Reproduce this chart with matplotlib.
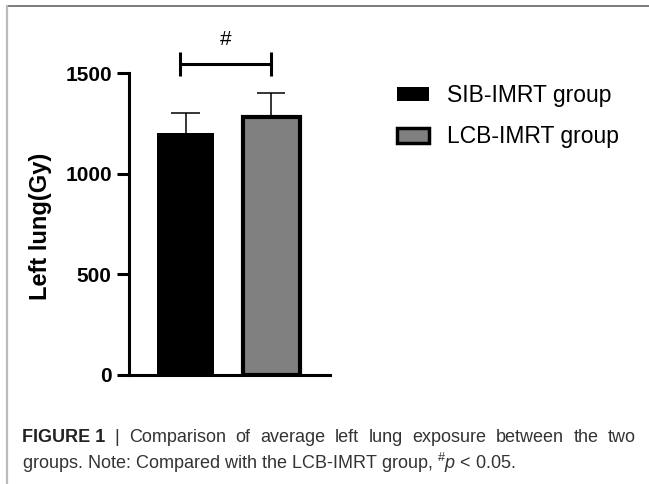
import numpy as np
import matplotlib.pyplot as plt
from matplotlib.patches import Patch
from matplotlib.lines import Line2D

plt.rcParams['font.family'] = ['Liberation Sans', 'DejaVu Sans']
plt.rcParams['mathtext.fontset'] = 'custom'
plt.rcParams['mathtext.rm'] = 'Liberation Sans'
plt.rcParams['mathtext.it'] = 'Liberation Sans:italic'

groups = ['SIB-IMRT group', 'LCB-IMRT group']
means = [1202, 1283]
sds = [102, 118]
colors = ['#000000', '#808080']
yticks = [0, 500, 1000, 1500]
sig_mark = '#'
bracket_y = 1547
bracket_tip = 1487

fig = plt.figure(figsize=(6.49, 4.84), dpi=100)
ax = fig.add_axes([129 / 649, 1 - 375 / 484, 201 / 649, (375 - 73.3) / 484])

x = np.arange(len(groups))
ax.bar(x, means, width=0.665, color=colors, edgecolor='black',
       linewidth=[0, 3], zorder=2)
# upper error bars only
tops = np.array(means) + np.array(sds)
ax.vlines(x, means, tops, color='black', lw=1.1, zorder=1)
ax.hlines(tops, x - 0.165, x + 0.165, color='black', lw=1.1, zorder=1)

ax.set_xlim(-0.66, 1.685)
ax.set_ylim(0, 1500)
ax.set_yticks(yticks)
ax.set_xticks([])
for s in ['top', 'right']:
    ax.spines[s].set_visible(False)
for s in ['left', 'bottom']:
    ax.spines[s].set_linewidth(2.2)
ax.tick_params(axis='y', length=9, width=2.2, pad=3.4, labelsize=15)
for lab in ax.get_yticklabels():
    lab.set_fontweight('bold')

# significance bracket
bx0, bx1 = -0.06, 1.0
ax.plot([bx0, bx1], [bracket_y, bracket_y], color='black', lw=2.2,
        clip_on=False, solid_capstyle='butt')
for bx in (bx0, bx1):
    ax.plot([bx, bx], [bracket_tip, 2 * bracket_y - bracket_tip], color='black',
            lw=2.2, clip_on=False, solid_capstyle='butt')
ax.text((bx0 + bx1) / 2, 1622, sig_mark, ha='center', va='bottom', fontsize=15,
        clip_on=False)

fig.text(41 / 649, 1 - 226.5 / 484, 'Left lung(Gy)', rotation=90, ha='center',
         va='center', fontsize=17, fontweight='bold')

handles = [Patch(facecolor=colors[0], edgecolor='black', linewidth=0),
           Patch(facecolor=colors[1], edgecolor='black', linewidth=2.5)]
fig.legend(handles, groups, loc='upper left',
           bbox_to_anchor=(397 / 649, 1 - 84 / 484), frameon=False,
           fontsize=16.5, handlelength=1.4, handleheight=0.62,
           handletextpad=0.8, labelspacing=0.8, borderpad=0, borderaxespad=0)

# panel frame
fig.add_artist(Line2D([7 / 649, 1], [1 - 6 / 484, 1 - 6 / 484], color='#666666',
                      lw=1.2, transform=fig.transFigure))
fig.add_artist(Line2D([7 / 649, 7 / 649], [0, 1 - 6 / 484], color='#bbbbbb',
                      lw=1.6, transform=fig.transFigure))

# caption, first line justified between x=22 and x=636
cap_size = 13
line1 = 'Comparison of average left lung exposure between the two'.split()
words = [('FIGURE 1', 'bold', '#222222'), ('|', 'normal', '#333333')] + \
        [(w, 'normal', '#333333') for w in line1]
y1 = 1 - 438 / 484
texts = [fig.text(0, y1, w, ha='left', va='center', fontsize=cap_size,
                  fontweight=fw, color=c) for w, fw, c in words]
fig.canvas.draw()
r = fig.canvas.get_renderer()
widths = [t.get_window_extent(r).width for t in texts]
x0, x1 = 22, 636
gap = (x1 - x0 - sum(widths)) / (len(widths) - 1)
pos = x0
for t, w in zip(texts, widths):
    t.set_x(pos / 649)
    pos += w + gap

fig.text(22 / 649, 1 - 463 / 484,
         'groups. Note: Compared with the LCB-IMRT group, $^{\\#}p$ < 0.05.',
         ha='left', va='center', fontsize=cap_size, color='#333333')

fig.savefig('out.png', dpi=100)
